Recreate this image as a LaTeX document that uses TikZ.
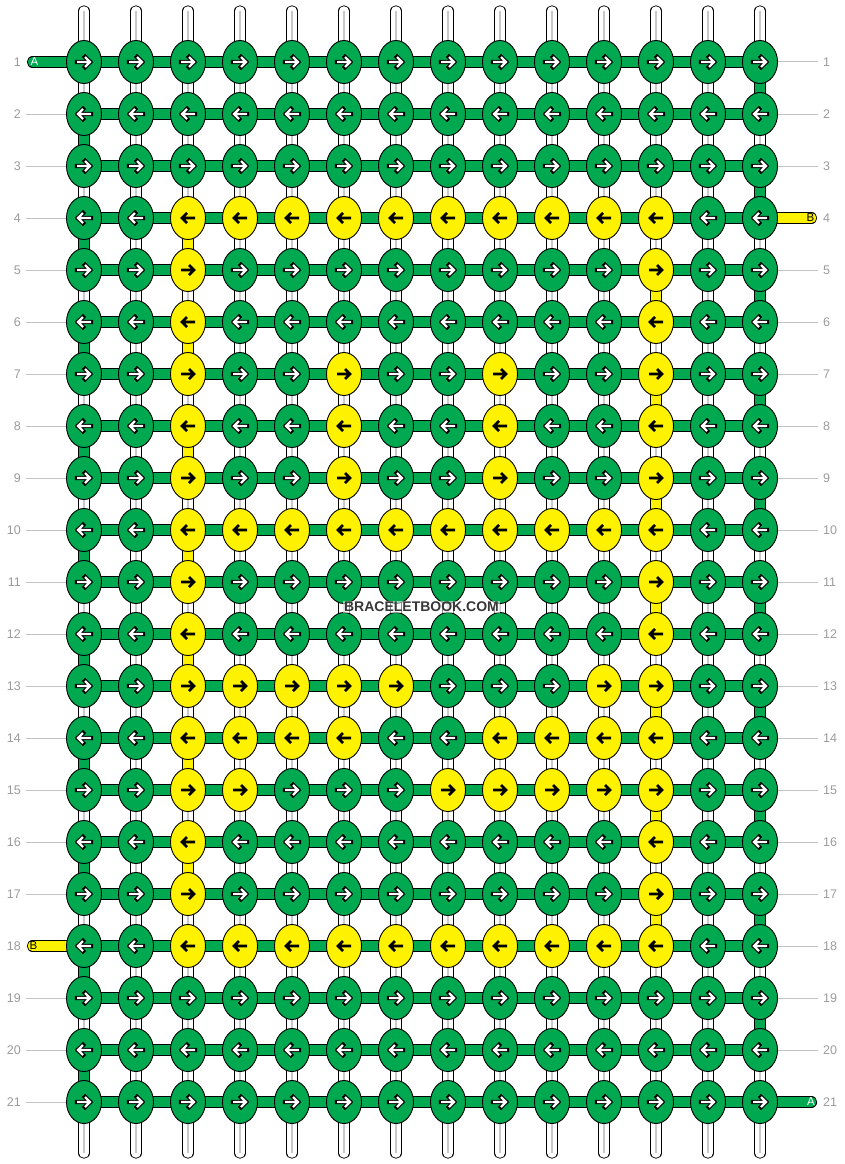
\documentclass[tikz,border=0pt]{standalone}
\usepackage{fontspec}
\setmainfont{Liberation Sans}
\usetikzlibrary{shapes.geometric}
\definecolor{kgreen}{RGB}{0,168,80}
\definecolor{kyellow}{RGB}{255,242,0}
\definecolor{lblgray}{RGB}{155,155,155}
\definecolor{linegray}{RGB}{195,195,195}
\definecolor{midgray}{RGB}{200,200,200}
\definecolor{wmgray}{RGB}{55,55,55}
\pgfdeclarelayer{bg}
\pgfsetlayers{bg,main}
\begin{document}
\begin{tikzpicture}[x=1pt,y=-1pt,
  knot/.style={ellipse, draw=black, line width=0.9pt, minimum width=35pt, minimum height=43pt, inner sep=0pt},
  strandline/.style={draw=black, line width=0.9pt, double distance=9.5pt},
  warp/.style={strandline, double=white, line cap=round},
  warpmid/.style={draw=midgray, line width=1.2pt},
  rowband/.style={strandline, double=kgreen},
  seggreen/.style={strandline, double=kgreen},
  segyellow/.style={strandline, double=kyellow},
  endgreen/.style={strandline, double=kgreen, line cap=round},
  endyellow/.style={strandline, double=kyellow, line cap=round},
  lbl/.style={text=lblgray, inner sep=0pt, font=\fontsize{12.5}{13}\selectfont},
  guide/.style={draw=linegray, line width=1pt},
  endlbl/.style={inner sep=0pt, font=\fontsize{11.5}{11.5}\selectfont},
  arrowout/.style={draw=black, line width=4.4pt, line cap=rect},
  arrowin/.style={draw=white, line width=2.4pt},
  arrowblack/.style={draw=black, line width=2.8pt},
  wmark/.style={text=wmgray, fill=white, fill opacity=0.55, text opacity=1, inner sep=1pt, font=\bfseries\fontsize{14}{14}\selectfont}
]
\useasboundingbox (0,0) rectangle (844,1164);

% yellow knots
\foreach \r/\ylist in {4/{3,4,5,6,7,8,9,10,11,12},5/{3,12},6/{3,12},7/{3,6,9,12},8/{3,6,9,12},9/{3,6,9,12},10/{3,4,5,6,7,8,9,10,11,12},11/{3,12},12/{3,12},13/{3,4,5,6,7,11,12},14/{3,4,5,6,9,10,11,12},15/{3,4,8,9,10,11,12},16/{3,12},17/{3,12},18/{3,4,5,6,7,8,9,10,11,12}}{
  \foreach \c in \ylist {\expandafter\gdef\csname Y-\r-\c\endcsname{1}}
}

% knots
\foreach \r in {1,...,21}{
  \foreach \c in {1,...,14}{
    \pgfmathsetmacro\kx{84+52*(\c-1)}
    \pgfmathsetmacro\ky{62+52*(\r-1)}
    \ifcsname Y-\r-\c\endcsname\def\kfill{kyellow}\else\def\kfill{kgreen}\fi
    \node[knot, fill=\kfill] (k-\r-\c) at (\kx,\ky) {};
  }
}

% arrows
\foreach \r in {1,...,21}{
  \ifodd\r\relax\def\dir{1}\else\def\dir{-1}\fi
  \foreach \c in {1,...,14}{
    \ifcsname Y-\r-\c\endcsname
      \draw[arrowblack, shift={(k-\r-\c.center)}, xscale=\dir] (-7,0) -- (6,0) (1,-5) -- (6,0) -- (1,5);
    \else
      \draw[arrowout, shift={(k-\r-\c.center)}, xscale=\dir] (-7,0) -- (6,0) (1,-5) -- (6,0) -- (1,5);
      \draw[arrowin, shift={(k-\r-\c.center)}, xscale=\dir] (-7,0) -- (6,0) (1,-5) -- (6,0) -- (1,5);
    \fi
  }
}

% warp ends
\foreach \c in {1,...,14}{
  \pgfmathsetmacro\kx{84+52*(\c-1)}
  \coordinate (top-\c) at (\kx,11);
  \coordinate (bot-\c) at (\kx,1153);
}
\coordinate (endA1) at (32.5,62);
\coordinate (endB4) at (811.5,218);
\coordinate (endB18) at (32.5,946);
\coordinate (endA21) at (811.5,1102);

\begin{pgfonlayer}{bg}
  % vertical white strands
  \foreach \c in {1,...,14}{
    \draw[warp] (top-\c) -- (bot-\c);
    \draw[warpmid] (top-\c) -- (bot-\c);
  }
  % green turns at the edges
  \foreach \r in {1,...,20}{
    \pgfmathtruncatemacro\rn{\r+1}
    \ifodd\r\relax\def\ec{14}\else\def\ec{1}\fi
    \draw[seggreen] (k-\r-\ec.center) -- (k-\rn-\ec.center);
  }
  % yellow vertical segments
  \foreach \r in {4,6,...,16}{
    \pgfmathtruncatemacro\rn{\r+1}
    \draw[segyellow] (k-\r-3.center) -- (k-\rn-3.center);
  }
  \foreach \r in {5,7,...,17}{
    \pgfmathtruncatemacro\rn{\r+1}
    \draw[segyellow] (k-\r-12.center) -- (k-\rn-12.center);
  }
  % horizontal bands
  \foreach \r in {1,...,21}{
    \draw[rowband] (k-\r-1.center) -- (k-\r-14.center);
  }
  % end strands
  \draw[endgreen] (endA1) -- (k-1-1.center);
  \draw[endyellow] (endB4) -- (k-4-14.center);
  \draw[endyellow] (endB18) -- (k-18-1.center);
  \draw[endgreen] (endA21) -- (k-21-14.center);
\end{pgfonlayer}

\node[endlbl, text=white] (lA1) at (34.5,62) {A};
\node[endlbl, text=black] (lB4) at (810.5,218) {B};
\node[endlbl, text=black] (lB18) at (33.5,946) {B};
\node[endlbl, text=white] (lA21) at (811,1102) {A};

% row labels and guide lines
\foreach \r in {1,...,21}{
  \pgfmathsetmacro\ky{62+52*(\r-1)}
  \node[lbl, anchor=east] (ll-\r) at (21,\ky) {\r};
  \node[lbl, anchor=west] (rl-\r) at (823,\ky) {\r};
}
\foreach \r in {2,...,17,19,20,21}{
  \draw[guide] ([xshift=5pt]ll-\r.east) -- (k-\r-1.west);
}
\foreach \r in {1,2,3,5,6,...,20}{
  \draw[guide] (k-\r-14.east) -- ([xshift=-5pt]rl-\r.west);
}

\node[wmark] (wm) at (421.5,607) {BRACELETBOOK.COM};
\end{tikzpicture}
\end{document}
